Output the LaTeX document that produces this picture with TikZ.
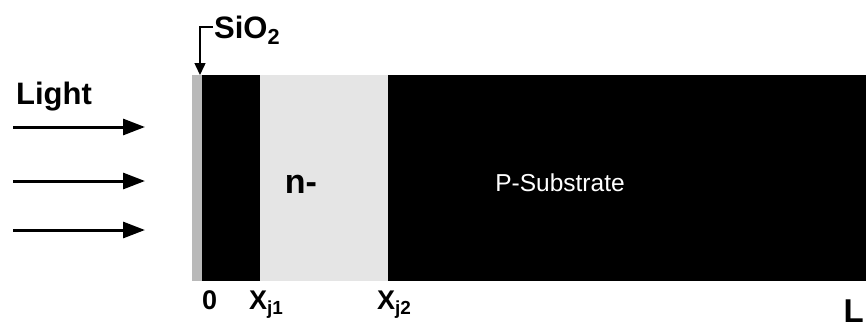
\documentclass[tikz,border=0pt]{standalone}
\usepackage{fontspec}
\setmainfont{Liberation Sans}
\usetikzlibrary{arrows.meta}

\newcommand{\dims}{
\def\ytop{75}    % top of the wafer
\def\ybot{281}   % bottom of the wafer
\def\xox{192}    % oxide start
\def\xa{202}     % oxide end
\def\xja{260}    % first junction
\def\xjb{388}    % second junction
\def\xend{866}
}
\tikzset{
  lightarrow/.style={line width=3pt,-{Triangle[length=22pt,width=16pt]}},
  boldlbl/.style={font=\fontsize{31}{33}\selectfont\bfseries,inner sep=0pt,anchor=base},
  poslbl/.style={font=\fontsize{27}{29}\selectfont\bfseries,inner sep=0pt,anchor=base west},
}

\begin{document}
\begin{tikzpicture}[x=1pt,y=-1pt]
  \dims
  \useasboundingbox (0,0) rectangle (867,330);
  % layers
  \fill[black]   (\xa,\ytop) rectangle (\xend,\ybot);
  \fill[gray!55] (\xox,\ytop) rectangle (\xa,\ybot);
  \fill[gray!20] (\xja,\ytop) rectangle (\xjb,\ybot);
%
  \node[boldlbl] (light) at (54,104) {Light};
  \foreach \y [count=\i] in {127,181,230} {
    \coordinate (s\i) at (13,\y);
    \coordinate (e\i) at (145,\y);
    \draw[lightarrow] (s\i) -- (e\i);
  }
%
  \node[boldlbl,anchor=base west] (oxide) at (214,38) {SiO\textsubscript{2}};
  \coordinate (ox) at (200,\ytop);
  \draw[line width=1.5pt,-{Triangle[length=12pt,width=11pt]}]
    (213,27) -- (200,27) -- (ox);
%
  \node[font=\fontsize{34}{36}\selectfont\bfseries,inner sep=0pt] (ndop) at (301,184) {n-};
  \node[font=\fontsize{24.5}{26}\selectfont,text=white,inner sep=0pt] (psub) at (560,183) {P-Substrate};
%
  \node[poslbl] (zero) at (202,309) {0};
  \node[poslbl] (xj1) at (249,309) {X\textsubscript{j1}};
  \node[poslbl] (xj2) at (377,309) {X\textsubscript{j2}};
  \node[font=\fontsize{33}{35}\selectfont\bfseries,inner sep=0pt,anchor=base east] (len) at (864,322) {L};
\end{tikzpicture}
\end{document}
